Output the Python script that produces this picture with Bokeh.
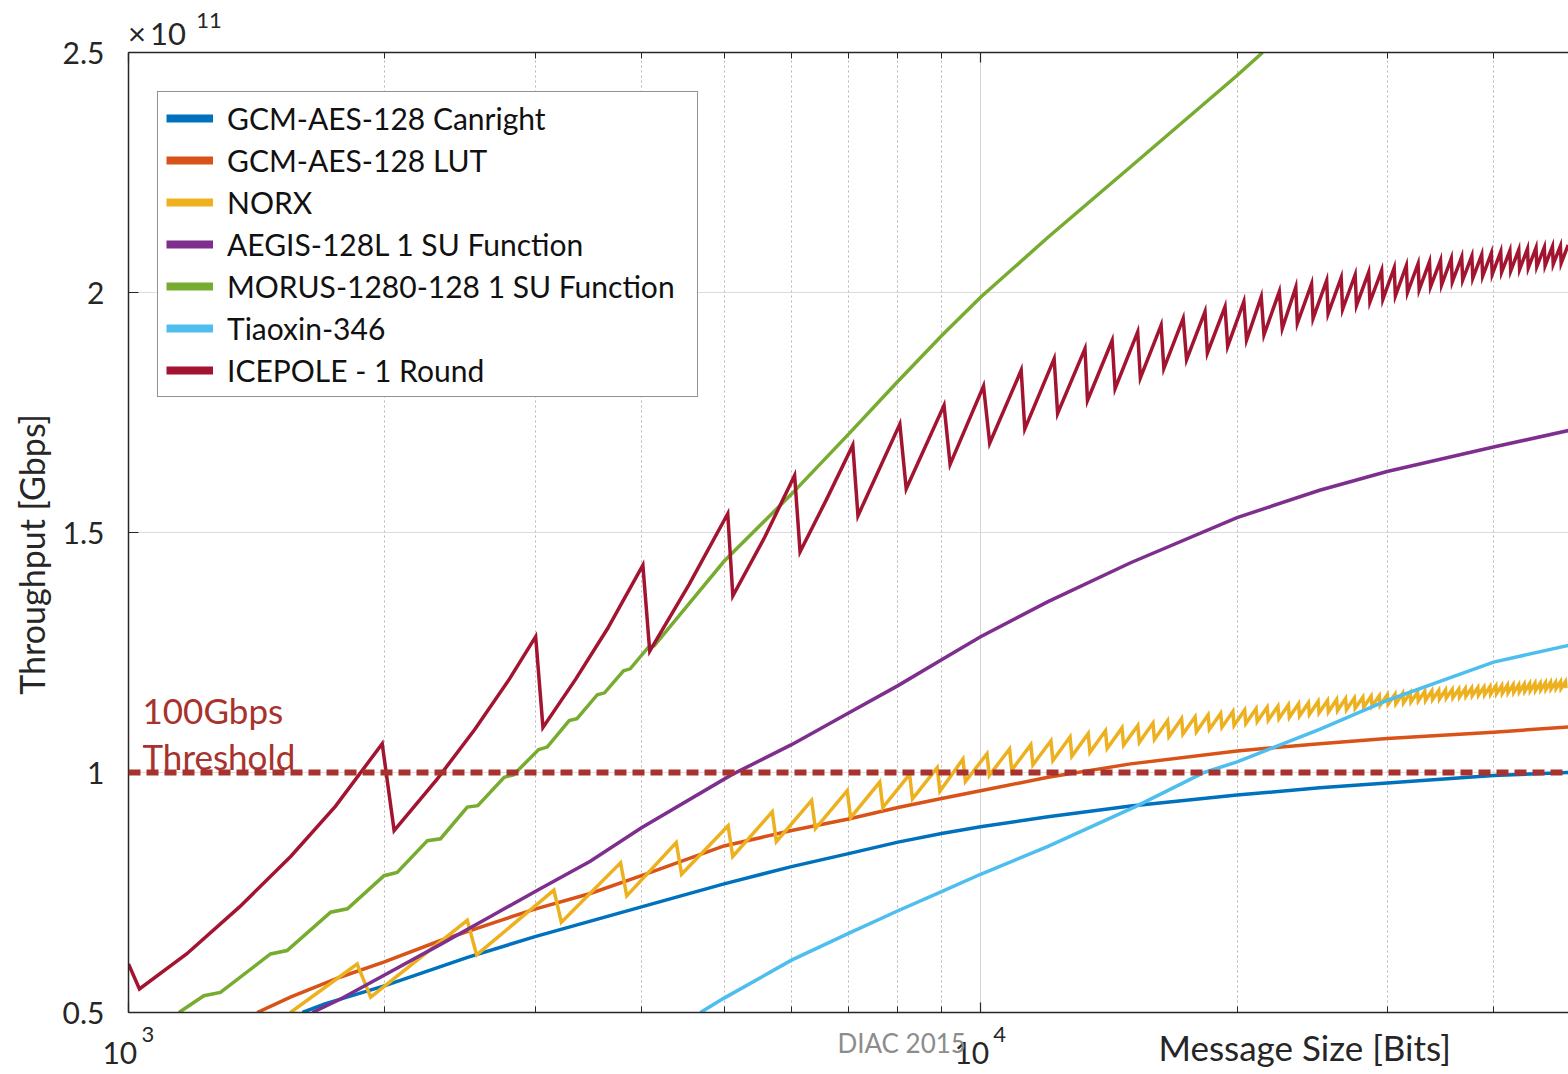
from bokeh.plotting import figure
from bokeh.models import (Range1d, LogAxis, FixedTicker, Span, Label, Legend, LegendItem,
                          CustomJSTickFormatter)
from bokeh.embed import file_html
from bokeh.resources import INLINE

FONT = "Lato"
TXT = "#262626"

# ---------------- data ----------------
X_START, X_END = 1000, 48980
Y_START, Y_END = 0.5, 2.5
Y_TICKS = [0.5, 1.0, 1.5, 2.0, 2.5]
XTICK_VALUES = [1000, 10000]
XTICK_BASE = ["10\\u2007", "10\\u2007"]
XTICK_EXP_POS = [1054, 10527]
XTICK_EXP = ["3", "4"]
X_MINOR = [2000, 3000, 4000, 5000, 6000, 7000, 8000, 9000, 20000, 30000, 40000]
Y_MULT_POS = [1080]
Y_MULT = ["\\u00d7\\u200910"]
Y_MULT_EXP_POS = [1243]
Y_MULT_EXP = ["11"]
X_TITLE_POS = [24010]
X_TITLE = ["Message Size [Bits]"]
FOOTER_POS = [8080]
FOOTER = ["DIAC 2015"]
Y_TITLE = "Throughput [Gbps]\u2007\u2007\u2009"
THRESHOLD = 1.0
THRESHOLD_TEXT = ["100Gbps", "Threshold"]
THRESHOLD_TEXT_Y = [1.131, 1.0354]

SERIES_NAMES = ["GCM-AES-128 Canright", "GCM-AES-128 LUT", "NORX",
                "AEGIS-128L 1 SU Function", "MORUS-1280-128 1 SU Function",
                "Tiaoxin-346", "ICEPOLE - 1 Round"]
SERIES_COLORS = ["#0072BD", "#D95319", "#EDB120", "#7E2F8E", "#77AC30", "#4DBEEE", "#A2142F"]

CANRIGHT_X = [1600, 1700, 2000, 2500, 3000, 4000, 5000, 6000, 7000, 8000, 9000, 10000,
              12000, 15000, 20000, 25000, 30000, 40000, 49000]
CANRIGHT_Y = [0.50, 0.518, 0.556, 0.615, 0.658, 0.72, 0.768, 0.804, 0.831, 0.855, 0.873, 0.887,
              0.908, 0.93, 0.953, 0.968, 0.978, 0.994, 1.0]

LUT_X = [1416, 1549, 1774, 1993, 2324, 2735, 2992, 3483, 4000, 5000, 6000, 7000, 8000, 9000,
         10000, 12000, 15000, 20000, 25000, 30000, 40000, 49000]
LUT_Y = [0.50, 0.532, 0.574, 0.605, 0.65, 0.692, 0.715, 0.748, 0.785, 0.847, 0.879, 0.903,
         0.927, 0.946, 0.962, 0.99, 1.018, 1.045, 1.06, 1.071, 1.084, 1.095]

NORX_START_X = [1549]
NORX_START_Y = [0.50]
NORX_PEAK_X = [1855, 2498, 3157, 3780, 4394, 5055, 5695, 6335, 6975, 7615, 8255, 8895, 9535,
               10175, 10815, 11455, 12095, 12735, 13375, 14015, 14655, 15295, 15935, 16575,
               17215, 17855, 18495, 19135, 19775, 20415, 21055, 21695, 22335, 22975, 23615,
               24255, 24895, 25535, 26175, 26815, 27455, 28095, 28735, 29375, 30015, 30655,
               31295, 31935, 32575, 33215, 33855, 34495, 35135, 35775, 36415, 37055, 37695,
               38335, 38975, 39615, 40255, 40895, 41535, 42175, 42815, 43455, 44095, 44735,
               45375, 46015, 46655, 47295, 47935, 48575]
NORX_PEAK_Y = [0.601, 0.692, 0.755, 0.812, 0.854, 0.889, 0.918, 0.942, 0.962, 0.980, 0.996,
               1.010, 1.028, 1.039, 1.049, 1.058, 1.066, 1.074, 1.081, 1.087, 1.093, 1.098,
               1.103, 1.108, 1.112, 1.116, 1.120, 1.123, 1.127, 1.130, 1.133, 1.136, 1.138,
               1.141, 1.143, 1.145, 1.148, 1.150, 1.152, 1.154, 1.155, 1.157, 1.159, 1.160,
               1.162, 1.163, 1.165, 1.166, 1.167, 1.169, 1.170, 1.171, 1.172, 1.173, 1.174,
               1.175, 1.176, 1.177, 1.178, 1.179, 1.180, 1.181, 1.182, 1.183, 1.183, 1.184,
               1.185, 1.186, 1.186, 1.187, 1.188, 1.188, 1.189, 1.189]
NORX_TROUGH_X = [1924, 2562, 3221, 3844, 4458, 5119, 5759, 6399, 7039, 7679, 8319, 8959, 9599,
                 10239, 10879, 11519, 12159, 12799, 13439, 14079, 14719, 15359, 15999, 16639,
                 17279, 17919, 18559, 19199, 19839, 20479, 21119, 21759, 22399, 23039, 23679,
                 24319, 24959, 25599, 26239, 26879, 27519, 28159, 28799, 29439, 30079, 30719,
                 31359, 31999, 32639, 33279, 33919, 34559, 35199, 35839, 36479, 37119, 37759,
                 38399, 39039, 39679, 40319, 40959, 41599, 42239, 42879, 43519, 44159, 44799,
                 45439, 46079, 46719, 47359, 47999, 48639]
NORX_TROUGH_Y = [0.532, 0.620, 0.688, 0.743, 0.788, 0.825, 0.856, 0.883, 0.906, 0.927, 0.945,
                 0.961, 0.981, 0.994, 1.005, 1.016, 1.025, 1.034, 1.042, 1.050, 1.057, 1.063,
                 1.069, 1.075, 1.080, 1.085, 1.090, 1.094, 1.098, 1.102, 1.106, 1.109, 1.112,
                 1.115, 1.118, 1.121, 1.124, 1.126, 1.129, 1.131, 1.134, 1.136, 1.138, 1.140,
                 1.142, 1.143, 1.145, 1.147, 1.149, 1.150, 1.152, 1.153, 1.155, 1.156, 1.157,
                 1.159, 1.160, 1.161, 1.162, 1.163, 1.164, 1.165, 1.166, 1.167, 1.168, 1.169,
                 1.170, 1.171, 1.172, 1.173, 1.174, 1.175, 1.175, 1.176]

AEGIS_X = [1643, 1774, 2030, 2324, 2660, 3042, 3483, 4000, 5100, 6000, 7000, 8000, 9000, 10000,
           12000, 15000, 20000, 25000, 30000, 40000, 49000]
AEGIS_Y = [0.50, 0.528, 0.585, 0.642, 0.700, 0.758, 0.815, 0.885, 0.995, 1.058, 1.124, 1.181,
           1.235, 1.283, 1.356, 1.437, 1.531, 1.588, 1.627, 1.678, 1.7125]

MORUS_X = [1146, 1226, 1282, 1468, 1535, 1727, 1807, 1995, 2067, 2243, 2324, 2498, 2570, 2760,
           2830, 3030, 3100, 3290, 3360, 3550, 3620, 3810, 3880, 4070, 4140, 5000, 6000, 7000,
           8000, 9000, 10000, 12000, 15000, 20000, 21430]
MORUS_Y = [0.50, 0.535, 0.542, 0.622, 0.629, 0.709, 0.716, 0.785, 0.792, 0.858, 0.862, 0.928,
           0.931, 0.99, 0.995, 1.048, 1.053, 1.108, 1.112, 1.162, 1.166, 1.212, 1.216, 1.26,
           1.264, 1.44, 1.58, 1.705, 1.815, 1.91, 1.99, 2.115, 2.262, 2.452, 2.5]

TIAOXIN_X = [4690, 5000, 6000, 7000, 8000, 9000, 10000, 12000, 15200, 18300, 20000, 25000,
             30000, 35000, 40000, 49000]
TIAOXIN_Y = [0.50, 0.53, 0.609, 0.665, 0.712, 0.752, 0.788, 0.846, 0.929, 1.0, 1.022, 1.09,
             1.15, 1.193, 1.23, 1.265]

ICEPOLE_PEAK_X = [1000, 1985, 3005, 4015, 5050, 6050, 7080, 8040, 9060, 10080, 11160, 12200,
                  13260, 14270, 15290, 16290, 17290, 18340, 19360, 20370, 21350, 22420, 23440,
                  24460, 25480, 26500, 27520, 28540, 29560, 30580, 31600, 32620, 33640, 34660,
                  35680, 36700, 37720, 38740, 39760, 40780, 41800, 42820, 43840, 44860, 45880,
                  46900, 47920, 48940]
ICEPOLE_PEAK_Y = [0.601, 1.060, 1.283, 1.432, 1.539, 1.619, 1.682, 1.726, 1.765, 1.805, 1.838,
                  1.862, 1.883, 1.900, 1.918, 1.932, 1.946, 1.960, 1.970, 1.981, 1.991, 2.002,
                  2.011, 2.018, 2.025, 2.031, 2.037, 2.042, 2.046, 2.051, 2.056, 2.060, 2.064,
                  2.067, 2.071, 2.074, 2.076, 2.079, 2.082, 2.085, 2.087, 2.089, 2.091, 2.093,
                  2.094, 2.096, 2.097, 2.099]
ICEPOLE_TROUGH_X = [1030, 2050, 3065, 4090, 5120, 6140, 7180, 8180, 9210, 10250, 11270, 12315,
                    13350, 14385, 15400, 16410, 17450, 18460, 19500, 20520, 21510, 22600, 23540,
                    24560, 25580, 26600, 27620, 28640, 29660, 30680, 31700, 32720, 33740, 34760,
                    35780, 36800, 37820, 38840, 39860, 40880, 41900, 42920, 43940, 44960, 45980,
                    47000, 48020]
ICEPOLE_TROUGH_Y = [0.549, 0.879, 1.094, 1.253, 1.368, 1.460, 1.535, 1.591, 1.642, 1.686, 1.716,
                    1.748, 1.775, 1.800, 1.822, 1.842, 1.860, 1.874, 1.888, 1.901, 1.912, 1.925,
                    1.936, 1.946, 1.956, 1.965, 1.973, 1.980, 1.986, 1.993, 2.000, 2.006, 2.012,
                    2.016, 2.022, 2.026, 2.030, 2.034, 2.038, 2.042, 2.045, 2.048, 2.051, 2.054,
                    2.056, 2.059, 2.061]
ICEPOLE_MID_X = [1170, 1350, 1550, 1750, 2300, 2550, 2800, 3350, 3650, 4550, 5580, 6600]
ICEPOLE_MID_Y = [0.622, 0.72, 0.825, 0.93, 0.985, 1.09, 1.195, 1.195, 1.30, 1.392, 1.49, 1.57]


def merge(*pairs):
    pts = []
    for xs, ys in pairs:
        pts.extend(zip(xs, ys))
    pts.sort(key=lambda t: t[0])
    return [t[0] for t in pts], [t[1] for t in pts]


NORX_X, NORX_Y = merge((NORX_START_X, NORX_START_Y), (NORX_PEAK_X, NORX_PEAK_Y),
                       (NORX_TROUGH_X, NORX_TROUGH_Y))
ICEPOLE_X, ICEPOLE_Y = merge((ICEPOLE_PEAK_X, ICEPOLE_PEAK_Y),
                             (ICEPOLE_TROUGH_X, ICEPOLE_TROUGH_Y),
                             (ICEPOLE_MID_X, ICEPOLE_MID_Y))

SERIES = [(CANRIGHT_X, CANRIGHT_Y), (LUT_X, LUT_Y), (NORX_X, NORX_Y), (AEGIS_X, AEGIS_Y),
          (MORUS_X, MORUS_Y), (TIAOXIN_X, TIAOXIN_Y), (ICEPOLE_X, ICEPOLE_Y)]


def label_formatter(values, labels):
    entries = ", ".join("'%s': '%s'" % (v, l) for v, l in zip(values, labels))
    return CustomJSTickFormatter(
        code="const m = {%s}; const s = m[String(tick)]; return s === undefined ? '' : s;" % entries)


def text_axis(values, labels, size, color, standoff):
    ax = LogAxis(ticker=FixedTicker(ticks=values), formatter=label_formatter(values, labels))
    ax.axis_line_color = None
    ax.major_tick_line_color = None
    ax.minor_tick_line_color = None
    ax.major_tick_in = 0
    ax.major_tick_out = 0
    ax.major_label_standoff = standoff
    ax.major_label_text_font = FONT
    ax.major_label_text_font_size = size
    ax.major_label_text_color = color
    return ax


def style_ticks(ax):
    ax.ticker = FixedTicker(ticks=XTICK_VALUES, minor_ticks=X_MINOR)
    ax.formatter = CustomJSTickFormatter(code="return ''")
    ax.major_label_standoff = 0
    ax.major_label_text_font_size = "0px"
    ax.major_tick_in = 10
    ax.major_tick_out = 0
    ax.minor_tick_in = 6
    ax.minor_tick_out = 0
    ax.axis_line_color = TXT
    ax.axis_line_width = 1.5
    ax.major_tick_line_color = TXT
    ax.minor_tick_line_color = TXT
    ax.major_tick_line_width = 1.2


# ---------------- figure ----------------
p = figure(width=1568, height=1074, x_axis_type="log",
           x_range=Range1d(X_START, X_END), y_range=Range1d(Y_START, Y_END),
           output_backend="svg", toolbar_location=None,
           min_border_left=128, min_border_right=0, min_border_top=52, min_border_bottom=62)
p.outline_line_color = None
p.background_fill_color = "white"
p.extra_y_ranges = {"legend_only": Range1d(100, 101)}

# bottom: tick axis, then text rows (decade base, exponent, title, footer)
style_ticks(p.xaxis[0])
p.add_layout(text_axis(XTICK_VALUES, XTICK_BASE, "30px", TXT, 21), "below")
p.add_layout(text_axis(XTICK_EXP_POS, XTICK_EXP, "22px", TXT, -46), "below")
p.add_layout(text_axis(X_TITLE_POS, X_TITLE, "35px", TXT, -47), "below")
p.add_layout(text_axis(FOOTER_POS, FOOTER, "26px", "#8C8C8C", -46), "below")

# top: tick axis, then the multiplier "x10^11"
top = LogAxis()
style_ticks(top)
p.add_layout(top, "above")
p.add_layout(text_axis(Y_MULT_POS, Y_MULT, "31px", TXT, 1), "above")
p.add_layout(text_axis(Y_MULT_EXP_POS, Y_MULT_EXP, "22px", TXT, -17), "above")

# y axis
p.yaxis.ticker = FixedTicker(ticks=Y_TICKS)
p.yaxis.formatter = CustomJSTickFormatter(code="return String(tick)")
p.yaxis.major_tick_in = 10
p.yaxis.major_tick_out = 0
p.yaxis.minor_tick_line_color = None
p.yaxis.axis_line_color = TXT
p.yaxis.axis_line_width = 1.5
p.yaxis.major_tick_line_color = TXT
p.yaxis.major_label_standoff = 24
p.yaxis.major_label_text_font = FONT
p.yaxis.major_label_text_font_size = "30px"
p.yaxis.major_label_text_color = TXT
p.yaxis.axis_label = Y_TITLE
p.yaxis.axis_label_text_font = FONT
p.yaxis.axis_label_text_font_size = "34px"
p.yaxis.axis_label_text_font_style = "normal"
p.yaxis.axis_label_text_color = TXT
p.yaxis.axis_label_standoff = 8

# grids
p.xgrid.ticker = FixedTicker(ticks=XTICK_VALUES, minor_ticks=X_MINOR)
p.xgrid.grid_line_color = "#D4D4D4"
p.xgrid.grid_line_width = 1
p.xgrid.minor_grid_line_color = "#B5B5B5"
p.xgrid.minor_grid_line_dash = "2 3"
p.ygrid.ticker = FixedTicker(ticks=Y_TICKS)
p.ygrid.grid_line_color = "#DCDCDC"

# series
for (xs, ys), c in zip(SERIES, SERIES_COLORS):
    p.line(xs, ys, line_color=c, line_width=3.5, line_join="miter")

# threshold line and its text
p.add_layout(Span(location=THRESHOLD, dimension="width", line_color="#A8322D",
                  line_width=6, line_dash="12 6"))
for t, ty in zip(THRESHOLD_TEXT, THRESHOLD_TEXT_Y):
    p.add_layout(Label(x=X_START, y=ty, x_offset=14, text=t, text_font=FONT,
                       text_font_size="35px", text_color="#A8322D", text_align="left",
                       text_baseline="alphabetic"))

# legend: thick swatches from copies of the series on an off-screen range
items = []
for (xs, ys), name, c in zip(SERIES, SERIES_NAMES, SERIES_COLORS):
    r = p.line(xs, ys, line_color=c, line_width=8, y_range_name="legend_only")
    items.append(LegendItem(label=name, renderers=[r]))
legend = Legend(items=items, location=(29, 615))
legend.label_text_font = FONT
legend.label_text_font_size = "30px"
legend.label_text_color = "#111111"
legend.glyph_width = 47
legend.glyph_height = 36
legend.label_height = 36
legend.label_width = 462
legend.label_standoff = 14
legend.spacing = 6
legend.padding = 8
legend.margin = 0
legend.border_line_color = TXT
legend.border_line_width = 1.5
legend.background_fill_alpha = 1.0
p.add_layout(legend)

open("out.html", "w").write(file_html(p, INLINE))
